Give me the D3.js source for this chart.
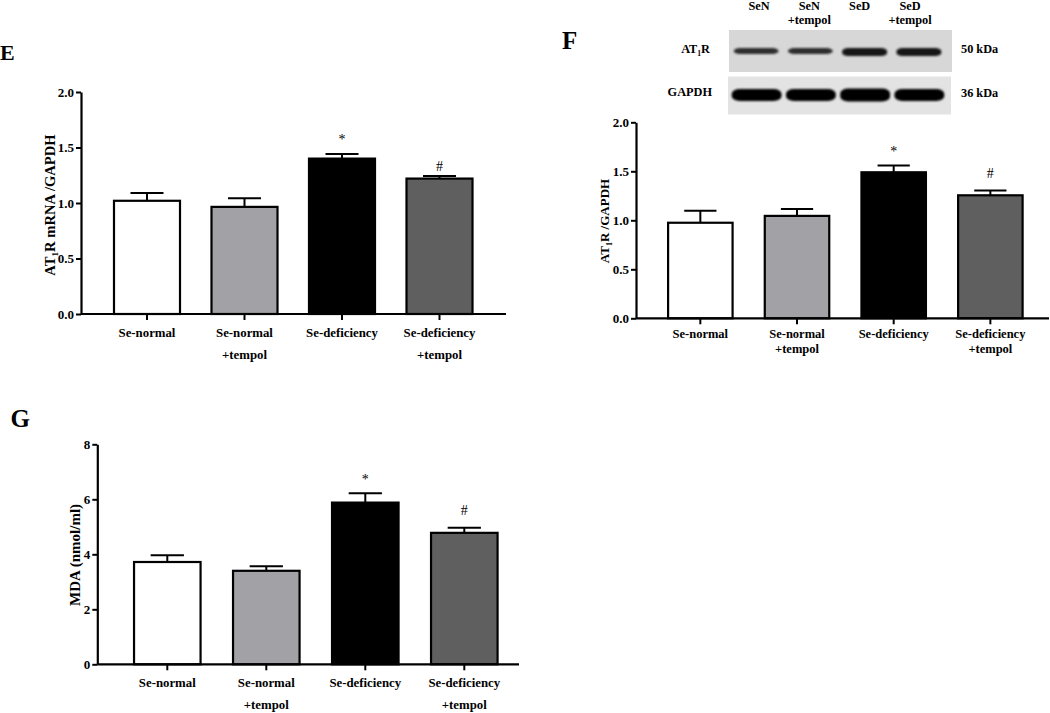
<!DOCTYPE html>
<html>
<head>
<meta charset="utf-8">
<script src="https://cdn.jsdelivr.net/npm/d3@7/dist/d3.min.js"></script>
<style>
  body { margin: 0; background: #fff; }
  svg { display: block; }
  text { font-family: "Liberation Serif", "Times New Roman", serif; font-weight: bold; fill: #000; }
</style>
</head>
<body>
<svg id="chart" width="1050" height="713"></svg>
<script>
// ---------------- data ----------------
const groups = ["Se-normal", "Se-normal +tempol", "Se-deficiency", "Se-deficiency +tempol"];
const groupLine1 = ["Se-normal", "Se-normal", "Se-deficiency", "Se-deficiency"];
const groupLine2 = ["", "+tempol", "", "+tempol"];
const barColors = ["#ffffff", "#a2a1a6", "#000000", "#5f5f5f"];
const marks = ["", "", "*", "#"];

// Panel E: AT1R mRNA / GAPDH
const eMeans = [1.02, 0.965, 1.40, 1.22];
const eErrors = [0.07, 0.078, 0.042, 0.024];
const eTicks = [0, 0.5, 1.0, 1.5, 2.0];

// Panel F: AT1R / GAPDH (western blot)
const fMeans = [0.975, 1.045, 1.49, 1.255];
const fErrors = [0.122, 0.07, 0.07, 0.05];
const fTicks = [0, 0.5, 1.0, 1.5, 2.0];

// Panel G: MDA (nmol/ml)
const gMeans = [3.72, 3.40, 5.88, 4.78];
const gErrors = [0.25, 0.17, 0.34, 0.19];
const gTicks = [0, 2, 4, 6, 8];

// Blot lanes
const laneHeaderLine1 = ["SeN", "SeN", "SeD", "SeD"];
const laneHeaderLine2 = ["", "+tempol", "", "+tempol"];
const at1rBandThickness = [6, 6, 8, 8];
const at1rBandShade = ["#2e2e2e", "#2e2e2e", "#141414", "#141414"];
const gapdhBandThickness = [12, 12, 13, 12];

// ---------------- drawing ----------------
const svg = d3.select("#chart");

const defs = svg.append("defs");
defs.append("filter").attr("id", "blur").attr("x", "-20%").attr("y", "-60%").attr("width", "140%").attr("height", "220%")
  .append("feGaussianBlur").attr("stdDeviation", 1.1);

function drawPanel(cfg) {
  const g = svg.append("g");
  const y = d3.scaleLinear().domain(cfg.domain).range([cfg.y0, cfg.y1]);
  const x = d3.scaleBand().domain(groups).range(cfg.xr).paddingInner(cfg.pad).paddingOuter(cfg.pad / 2);

  // y axis
  const yAxis = d3.axisLeft(y).tickValues(cfg.ticks).tickFormat(cfg.fmt).tickSize(5).tickSizeOuter(0);
  const ya = g.append("g").attr("transform", `translate(${cfg.ax},0)`).call(yAxis);
  ya.select(".domain").attr("stroke", "#000").attr("stroke-width", 2.2);
  ya.selectAll(".tick line").attr("stroke", "#000").attr("stroke-width", 2);
  ya.selectAll(".tick text").attr("x", -7).attr("font-size", 13)
    .style("font-family", '"Liberation Serif", serif').style("font-weight", "bold");

  const data = groups.map((k, i) => ({ k, v: cfg.means[i], e: cfg.errors[i], c: barColors[i], m: marks[i] }));
  const bw = x.bandwidth();

  // error bars (upward only)
  const eb = g.selectAll(".eb").data(data).enter().append("g");
  eb.append("line")
    .attr("x1", d => x(d.k) + bw / 2).attr("x2", d => x(d.k) + bw / 2)
    .attr("y1", d => y(d.v)).attr("y2", d => y(d.v + d.e))
    .attr("stroke", "#000").attr("stroke-width", 2);
  eb.append("line")
    .attr("x1", d => x(d.k) + bw / 4).attr("x2", d => x(d.k) + bw * 3 / 4)
    .attr("y1", d => y(d.v + d.e)).attr("y2", d => y(d.v + d.e))
    .attr("stroke", "#000").attr("stroke-width", 2);

  // bars
  g.selectAll(".bar").data(data).enter().append("rect")
    .attr("x", d => x(d.k)).attr("width", bw)
    .attr("y", d => y(d.v)).attr("height", d => y(0) - y(d.v))
    .attr("fill", d => d.c).attr("stroke", "#000").attr("stroke-width", 2.2);

  // significance marks
  g.selectAll(".mk").data(data.filter(d => d.m)).enter().append("text")
    .attr("x", d => x(d.k) + bw / 2)
    .attr("y", d => y(d.v + d.e) - (d.m === "*" ? cfg.starGap : cfg.hashGap))
    .attr("text-anchor", "middle").attr("font-size", 14).style("font-weight", "normal")
    .text(d => d.m);

  // x axis line
  g.append("line").attr("x1", cfg.ax).attr("x2", cfg.axEnd).attr("y1", y(0)).attr("y2", y(0))
    .attr("stroke", "#000").attr("stroke-width", 2.2);
  // x ticks
  g.selectAll(".xt").data(groups).enter().append("line")
    .attr("x1", d => x(d) + bw / 2).attr("x2", d => x(d) + bw / 2)
    .attr("y1", y(0)).attr("y2", y(0) + 6).attr("stroke", "#000").attr("stroke-width", 2);
  // x labels
  groups.forEach((k, i) => {
    g.append("text").attr("x", x(k) + bw / 2).attr("y", y(0) + cfg.lab1)
      .attr("text-anchor", "middle").attr("font-size", cfg.labSize).text(groupLine1[i]);
    if (groupLine2[i]) {
      g.append("text").attr("x", x(k) + bw / 2).attr("y", y(0) + cfg.lab1 + cfg.lab2)
        .attr("text-anchor", "middle").attr("font-size", cfg.labSize).text(groupLine2[i]);
    }
  });

  // y title
  const t = g.append("text")
    .attr("transform", `translate(${cfg.titleX},${cfg.titleY}) rotate(-90)`)
    .attr("text-anchor", "middle").attr("font-size", cfg.titleSize);
  cfg.title(t);

  // panel letter
  g.append("text").attr("x", cfg.letterX).attr("y", cfg.letterY).attr("font-size", cfg.letterSize).text(cfg.letter);
}

function at1rTitle(rest) {
  return t => {
    t.append("tspan").text("AT");
    t.append("tspan").attr("font-size", "0.62em").attr("dy", 3).text("1");
    t.append("tspan").attr("dy", -3).text("R" + rest);
  };
}

drawPanel({
  domain: [0, 2], y0: 314, y1: 92, ticks: eTicks, fmt: d3.format(".1f"),
  xr: [98.25, 488.25], pad: 0.323, ax: 81, axEnd: 506,
  means: eMeans, errors: eErrors, starGap: 10, hashGap: 5,
  lab1: 23, lab2: 21.5, labSize: 12.8,
  title: at1rTitle(" mRNA /GAPDH"), titleX: 55, titleY: 205, titleSize: 14.6,
  letter: "E", letterX: 0, letterY: 60, letterSize: 22
});

drawPanel({
  domain: [0, 2], y0: 318.3, y1: 122.3, ticks: fTicks, fmt: d3.format(".1f"),
  xr: [652, 1038.7], pad: 0.333, ax: 636, axEnd: 1049,
  means: fMeans, errors: fErrors, starGap: 9, hashGap: 12,
  lab1: 20, lab2: 15, labSize: 12.5,
  title: at1rTitle(" /GAPDH"), titleX: 609, titleY: 221, titleSize: 13,
  letter: "F", letterX: 562, letterY: 49, letterSize: 25
});

drawPanel({
  domain: [0, 8], y0: 664.3, y1: 444.3, ticks: gTicks, fmt: d3.format("d"),
  xr: [117.8, 513.8], pad: 0.328, ax: 97.3, axEnd: 519,
  means: gMeans, errors: gErrors, starGap: 9, hashGap: 12.5,
  lab1: 22.5, lab2: 21.7, labSize: 12.8,
  title: t => t.text("MDA (nmol/ml)"), titleX: 80, titleY: 555, titleSize: 15,
  letter: "G", letterX: 10.5, letterY: 426.5, letterSize: 25
});

// ---------------- western blot (panel F inset) ----------------
const blot = svg.append("g");
const lanes = d3.range(4);
const laneX = d3.scaleBand().domain(lanes).range([729, 946]).paddingInner(0.1).paddingOuter(0.05);
const headerX = d3.scalePoint().domain(lanes).range([759, 910]);

blot.append("rect").attr("x", 729).attr("y", 30).attr("width", 223).attr("height", 42).attr("fill", "#d7d7d7");
blot.append("rect").attr("x", 728).attr("y", 76.5).attr("width", 223).attr("height", 38).attr("fill", "#e3e3e3");

blot.selectAll(".b1").data(lanes).enter().append("rect")
  .attr("x", i => laneX(i) + 2).attr("width", laneX.bandwidth() - 4)
  .attr("y", i => 51 - at1rBandThickness[i] / 2 + (i > 1 ? 1 : 0)).attr("height", i => at1rBandThickness[i])
  .attr("rx", 6).attr("ry", 3).attr("fill", i => at1rBandShade[i]).attr("filter", "url(#blur)");

blot.selectAll(".b2").data(lanes).enter().append("rect")
  .attr("x", i => laneX(i)).attr("width", laneX.bandwidth() + 1)
  .attr("y", i => 95 - gapdhBandThickness[i] / 2).attr("height", i => gapdhBandThickness[i])
  .attr("rx", 8).attr("ry", 5).attr("fill", "#050505").attr("filter", "url(#blur)");

lanes.forEach(i => {
  blot.append("text").attr("x", headerX(i)).attr("y", 9.5).attr("text-anchor", "middle").attr("font-size", 12.3).text(laneHeaderLine1[i]);
  if (laneHeaderLine2[i]) blot.append("text").attr("x", headerX(i)).attr("y", 23.5).attr("text-anchor", "middle").attr("font-size", 12.3).text(laneHeaderLine2[i]);
});

const at1rLab = blot.append("text").attr("x", 710).attr("y", 52.5).attr("text-anchor", "end").attr("font-size", 12.3);
at1rLab.append("tspan").text("AT");
at1rLab.append("tspan").attr("font-size", "0.62em").attr("dy", 3).text("1");
at1rLab.append("tspan").attr("dy", -3).text("R");
blot.append("text").attr("x", 712).attr("y", 95.5).attr("text-anchor", "end").attr("font-size", 12.3).text("GAPDH");
blot.append("text").attr("x", 961).attr("y", 52.5).attr("font-size", 12.3).text("50 kDa");
blot.append("text").attr("x", 961).attr("y", 97).attr("font-size", 12.3).text("36 kDa");
</script>
</body>
</html>
